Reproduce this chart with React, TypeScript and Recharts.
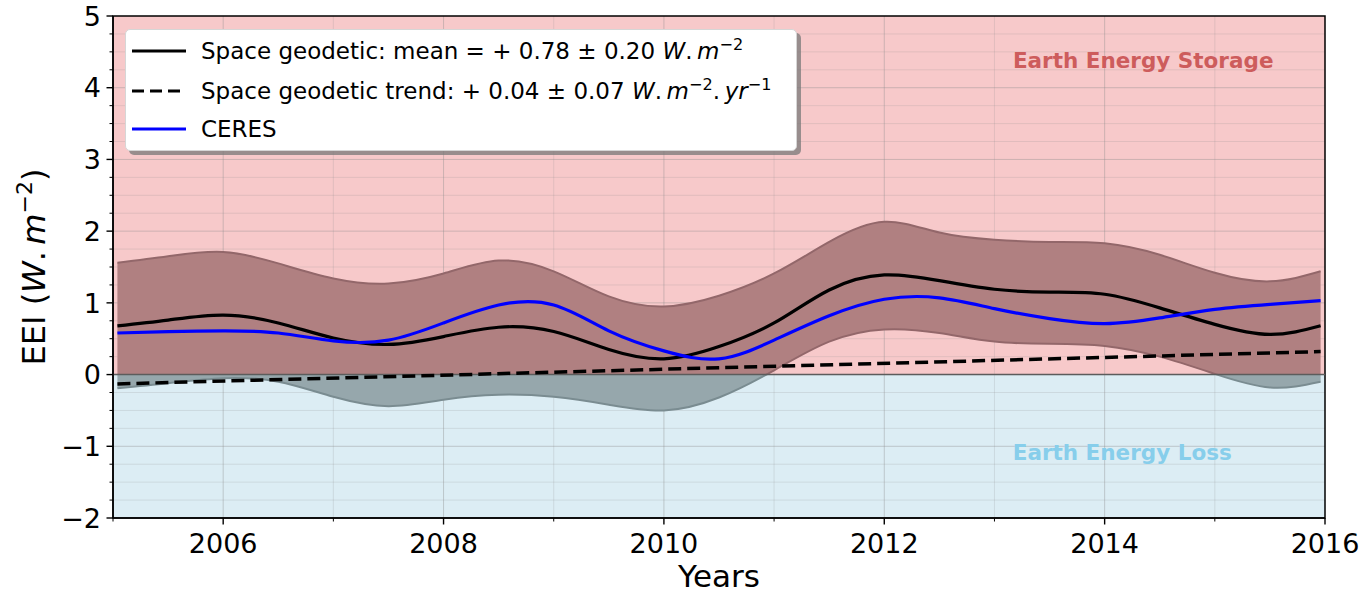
import React from "react";
import {
  Area,
  CartesianGrid,
  ComposedChart,
  Line,
  ReferenceArea,
  ReferenceLine,
  XAxis,
  YAxis,
} from "recharts";

// values
const years = [
  2005.04, 2005.5, 2006, 2006.5, 2007, 2007.5, 2008, 2008.5, 2009, 2009.5, 2010, 2010.5,
  2011, 2011.5, 2012, 2012.5, 2013, 2013.5, 2014, 2014.5, 2015, 2015.5, 2015.96,
];
const meanEEI = [
  0.68, 0.76, 0.83, 0.72, 0.51, 0.42, 0.53, 0.66, 0.6, 0.35, 0.22, 0.39,
  0.72, 1.18, 1.39, 1.31, 1.19, 1.15, 1.12, 0.93, 0.7, 0.56, 0.68,
];
const ceresEEI = [
  0.58, 0.6, 0.61, 0.58, 0.47, 0.48, 0.72, 0.97, 0.97, 0.61, 0.33, 0.22,
  0.48, 0.82, 1.05, 1.07, 0.92, 0.78, 0.71, 0.79, 0.91, 0.98, 1.03,
];
const bandUpper = [
  1.56, 1.65, 1.71, 1.55, 1.34, 1.27, 1.41, 1.59, 1.44, 1.09, 0.95, 1.1,
  1.41, 1.85, 2.13, 1.98, 1.88, 1.85, 1.83, 1.67, 1.42, 1.3, 1.44,
];
const bandLower = [
  -0.19, -0.12, -0.05, -0.1, -0.31, -0.44, -0.35, -0.28, -0.31, -0.42, -0.5, -0.32,
  0.06, 0.46, 0.63, 0.58, 0.46, 0.43, 0.4, 0.25, 0.01, -0.18, -0.1,
];
const trendYears = [2005.04, 2015.96];
const trendEEI = [-0.13, 0.32];

const xTicks = [2005, 2006, 2007, 2008, 2009, 2010, 2011, 2012, 2013, 2014, 2015, 2016];
const yTicks = [
  -2, -1.75, -1.5, -1.25, -1, -0.75, -0.5, -0.25, 0, 0.25, 0.5, 0.75, 1, 1.25, 1.5, 1.75,
  2, 2.25, 2.5, 2.75, 3, 3.25, 3.5, 3.75, 4, 4.25, 4.5, 4.75, 5,
];
const xMajorGrid = [2006, 2008, 2010, 2012, 2014];
const xMinorGrid = [2007, 2009, 2011, 2013, 2015];
const yMajorGrid = [-1, 0, 1, 2, 3, 4];
const yMinorGrid = yTicks.filter((v) => !Number.isInteger(v));

const chartData = years.map((year, i) => ({
  year,
  mean: meanEEI[i],
  ceres: ceresEEI[i],
  band: [bandLower[i], bandUpper[i]],
}));
const trendData = trendYears.map((year, i) => ({ year, trend: trendEEI[i] }));

const WIDTH = 1365;
const HEIGHT = 596;
const MARGIN = { top: 16, right: 40, bottom: 0, left: 0 };
const Y_AXIS_WIDTH = 113;
const X_AXIS_HEIGHT = 78;
const PLOT_TOP = MARGIN.top;
const PLOT_H = HEIGHT - MARGIN.top - MARGIN.bottom - X_AXIS_HEIGHT;
const Y_MIN = -2;
const Y_MAX = 5;
const ZERO_FRAC = Y_MAX / (Y_MAX - Y_MIN);

const FONT = "'DejaVu Sans', sans-serif";
const TICK_SIZE = 7;
const X_TICK_MARGIN = 9;
const Y_TICK_MARGIN = 5;

const PINK = "#f7c9ca";
const BLUE = "#dcedf4";

function XTick(props: any) {
  const { x, y, payload } = props;
  const major = payload.value % 2 === 0;
  const axisY = y - TICK_SIZE - X_TICK_MARGIN;
  return (
    <g>
      <line
        x1={x}
        x2={x}
        y1={axisY}
        y2={axisY + (major ? 6.5 : 3.5)}
        stroke="#000"
        strokeWidth={major ? 1.4 : 1}
      />
      {major && (
        <text x={x} y={y} dy="0.71em" textAnchor="middle" fontFamily={FONT} fontSize={27} fill="#000">
          {payload.value}
        </text>
      )}
    </g>
  );
}

function YTick(props: any) {
  const { x, y, payload } = props;
  const v = payload.value;
  const major = Number.isInteger(v);
  const axisX = x + TICK_SIZE + Y_TICK_MARGIN;
  return (
    <g>
      <line
        x1={axisX}
        x2={axisX - (major ? 6.5 : 3.5)}
        y1={y}
        y2={y}
        stroke="#000"
        strokeWidth={major ? 1.4 : 1}
      />
      {major && (
        <text x={x} y={y} dy="0.36em" textAnchor="end" fontFamily={FONT} fontSize={27} fill="#000">
          {v < 0 ? `\u2212${-v}` : `${v}`}
        </text>
      )}
    </g>
  );
}

function renderXLabel(props: any) {
  const vb = props.viewBox;
  return (
    <text x={vb.x + vb.width / 2} y={vb.y + 69} textAnchor="middle" fontFamily={FONT} fontSize={31} fill="#000">
      Years
    </text>
  );
}

function renderYLabel(props: any) {
  const vb = props.viewBox;
  const x = vb.x + 45;
  const y = vb.y + vb.height / 2;
  return (
    <text
      x={x}
      y={y}
      transform={`rotate(-90, ${x}, ${y})`}
      textAnchor="middle"
      fontFamily={FONT}
      fontSize={32}
      fill="#000"
    >
      EEI (<tspan fontStyle="italic">W</tspan>.{"\u2009"}
      <tspan fontStyle="italic">m</tspan>
      <tspan dy={-13} fontSize={22}>
        {"\u2212"}2
      </tspan>
      <tspan dy={13}>)</tspan>
    </text>
  );
}

const supStyle: React.CSSProperties = { fontSize: "0.7em", verticalAlign: "0.55em", lineHeight: 0 };

function LegendSample({ color, dashed }: { color: string; dashed?: boolean }) {
  return (
    <svg width={54} height={10} style={{ display: "block" }}>
      <line
        x1={0}
        x2={54}
        y1={5}
        y2={5}
        stroke={color}
        strokeWidth={3.2}
        strokeDasharray={dashed ? "12 6" : undefined}
      />
    </svg>
  );
}

const legendRows = [
  {
    key: "mean",
    color: "#000",
    dashed: false,
    label: (
      <>
        Space geodetic: mean = + 0.78 ± 0.20 <i>W</i>.{"\u2009"}
        <i>m</i>
        <sup style={supStyle}>{"\u2212"}2</sup>
      </>
    ),
  },
  {
    key: "trend",
    color: "#000",
    dashed: true,
    label: (
      <>
        Space geodetic trend: + 0.04 ± 0.07 <i>W</i>.{"\u2009"}
        <i>m</i>
        <sup style={supStyle}>{"\u2212"}2</sup>.{"\u2009"}
        <i>yr</i>
        <sup style={supStyle}>{"\u2212"}1</sup>
      </>
    ),
  },
  { key: "ceres", color: "#0000ff", dashed: false, label: <>CERES</> },
];

function LegendBox() {
  return (
    <div
      style={{
        position: "absolute",
        left: 125,
        top: 29,
        width: 670,
        height: 120,
        background: "#fff",
        border: "1px solid #d6d6d6",
        borderRadius: 5,
        boxShadow: "4px 4px 0 rgba(120,120,120,0.75)",
        fontFamily: FONT,
        fontSize: 23,
        color: "#000",
      }}
    >
      {legendRows.map((row, i) => (
        <div
          key={row.key}
          style={{
            position: "absolute",
            left: 6,
            top: [6, 46, 84][i],
            height: 30,
            display: "flex",
            alignItems: "center",
            whiteSpace: "nowrap",
          }}
        >
          <LegendSample color={row.color} dashed={row.dashed} />
          <span style={{ marginLeft: 15 }}>{row.label}</span>
        </div>
      ))}
    </div>
  );
}

export default function App() {
  return (
    <div style={{ position: "absolute", left: 0, top: 0, width: WIDTH, height: HEIGHT, background: "#fff" }}>
      <ComposedChart width={WIDTH} height={HEIGHT} data={chartData} margin={MARGIN}>
        <defs>
          <linearGradient id="bgFill" gradientUnits="userSpaceOnUse" x1={0} y1={PLOT_TOP} x2={0} y2={PLOT_TOP + PLOT_H}>
            <stop offset={ZERO_FRAC} stopColor={PINK} />
            <stop offset={ZERO_FRAC} stopColor={BLUE} />
          </linearGradient>
          <linearGradient id="bandFill" gradientUnits="userSpaceOnUse" x1={0} y1={PLOT_TOP} x2={0} y2={PLOT_TOP + PLOT_H}>
            <stop offset={ZERO_FRAC} stopColor="#b08081" />
            <stop offset={ZERO_FRAC} stopColor="#96a7ac" />
          </linearGradient>
          <linearGradient id="bandStroke" gradientUnits="userSpaceOnUse" x1={0} y1={PLOT_TOP} x2={0} y2={PLOT_TOP + PLOT_H}>
            <stop offset={ZERO_FRAC} stopColor="#93676a" />
            <stop offset={ZERO_FRAC} stopColor="#7a8c91" />
          </linearGradient>
        </defs>
        <CartesianGrid
          fill="url(#bgFill)"
          fillOpacity={1}
          verticalValues={xMinorGrid}
          horizontalValues={yMinorGrid}
          stroke="#8c8c8c"
          strokeOpacity={0.2}
        />
        <CartesianGrid
          verticalValues={xMajorGrid}
          horizontalValues={yMajorGrid}
          stroke="#8c8c8c"
          strokeOpacity={0.4}
        />
        <XAxis
          dataKey="year"
          type="number"
          domain={[2005, 2016]}
          allowDataOverflow
          ticks={xTicks}
          interval={0}
          height={X_AXIS_HEIGHT}
          tickSize={TICK_SIZE}
          tickMargin={X_TICK_MARGIN}
          tickLine={false}
          tick={(p: any) => <XTick {...p} />}
          axisLine={{ stroke: "#000", strokeWidth: 1.5 }}
          label={renderXLabel}
        />
        <YAxis
          type="number"
          domain={[Y_MIN, Y_MAX]}
          allowDataOverflow
          ticks={yTicks}
          interval={0}
          width={Y_AXIS_WIDTH}
          tickSize={TICK_SIZE}
          tickMargin={Y_TICK_MARGIN}
          tickLine={false}
          tick={(p: any) => <YTick {...p} />}
          axisLine={{ stroke: "#000", strokeWidth: 1.5 }}
          label={renderYLabel}
        />
        <Area
          dataKey="band"
          type="natural"
          fill="url(#bandFill)"
          fillOpacity={1}
          stroke="url(#bandStroke)"
          strokeWidth={2}
          dot={false}
          activeDot={false}
          isAnimationActive={false}
        />
        <ReferenceLine y={0} stroke="#5c5c5c" strokeWidth={1.5} />
        <Line
          dataKey="mean"
          type="natural"
          stroke="#000"
          strokeWidth={3.2}
          dot={false}
          activeDot={false}
          isAnimationActive={false}
        />
        <Line
          dataKey="ceres"
          type="natural"
          stroke="#0000ff"
          strokeWidth={3.2}
          dot={false}
          activeDot={false}
          isAnimationActive={false}
        />
        <Line
          data={trendData}
          dataKey="trend"
          type="linear"
          stroke="#000"
          strokeWidth={3.5}
          strokeDasharray="13 6"
          dot={false}
          activeDot={false}
          isAnimationActive={false}
        />
        <ReferenceArea
          x1={2013.3}
          x2={2015.4}
          y1={4.2}
          y2={4.56}
          fill="none"
          stroke="none"
          label={{
            value: "Earth Energy Storage",
            position: "center",
            fill: "#cd5c5c",
            fontSize: 21.5,
            fontWeight: "bold",
            fontFamily: FONT,
          }}
        />
        <ReferenceArea
          x1={2013.3}
          x2={2015.02}
          y1={-1.26}
          y2={-0.9}
          fill="none"
          stroke="none"
          label={{
            value: "Earth Energy Loss",
            position: "center",
            fill: "#87ceeb",
            fontSize: 21.5,
            fontWeight: "bold",
            fontFamily: FONT,
          }}
        />
        <ReferenceArea x1={2005} x2={2016} y1={Y_MIN} y2={Y_MAX} fill="none" stroke="#000" strokeWidth={1.5} />
      </ComposedChart>
      <LegendBox />
    </div>
  );
}
